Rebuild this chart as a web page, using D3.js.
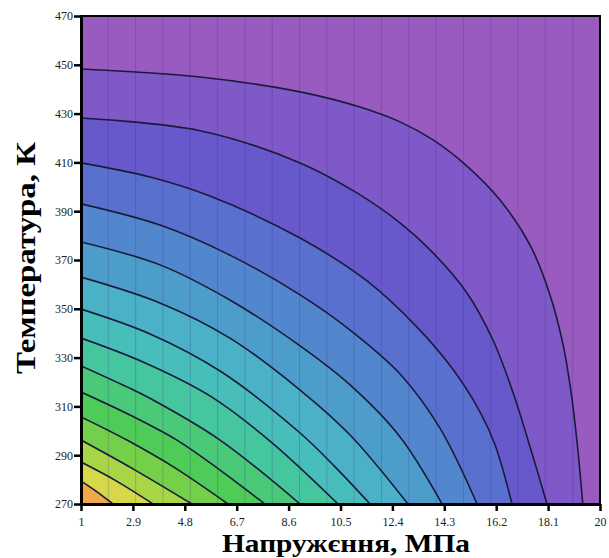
<!DOCTYPE html>
<html>
<head>
<meta charset="utf-8">
<script src="https://cdn.jsdelivr.net/npm/d3@7"></script>
<style>
  body { margin: 0; background: #fff; }
  svg { display: block; }
  .tick text { font-family: "Liberation Serif", "DejaVu Serif", serif; font-size: 12px; fill: #222; }
</style>
</head>
<body>
<div id="vis"></div>
<script>
const xTicks = [1, 2.9, 4.8, 6.7, 8.6, 10.5, 12.4, 14.3, 16.2, 18.1, 20];
const yTicks = [270, 290, 310, 330, 350, 370, 390, 410, 430, 450, 470];

// contour lines, [stress MPa, temperature K], outer -> inner
const contours = [
    [[1, 448.3], [5.36, 445.0], [9.02, 438.9], [11.21, 432.7], [12.68, 426.6], [13.89, 419.2], [15.13, 408.5],
     [16.34, 394.6], [17.44, 376.1], [18.17, 355.7], [18.65, 335.2], [18.97, 313.4], [19.19, 292.1], [19.37, 270]],
    [[1, 428.2], [5.36, 423.0], [9.02, 409.8], [11.10, 397.5], [12.68, 385.2], [13.89, 372.9], [15.13, 356.5],
     [16.08, 337.2], [16.81, 315.9], [17.44, 293.4], [18.06, 270]],
    [[1, 409.8], [3.53, 404.0], [5.72, 396.2], [9.02, 379.0], [11.47, 361.4], [13.30, 342.5], [14.58, 325.7],
     [15.61, 307.7], [16.16, 294.2], [16.78, 270]],
    [[1, 393.0], [3.89, 384.3], [6.45, 372.0], [9.02, 355.7], [10.85, 341.3], [12.68, 323.3], [14.14, 301.1], [15.50, 270]],
    [[1, 377.4], [3.89, 368.0], [6.45, 353.6], [9.02, 334.8], [10.85, 318.8], [12.68, 297.5], [14.22, 270]],
    [[1, 363.0], [3.89, 352.4], [6.45, 338.0], [9.02, 316.7], [10.85, 298.3], [12.97, 270]],
    [[1, 349.9], [3.53, 339.7], [6.09, 324.5], [9.02, 299.1], [10.30, 285.2], [11.58, 270]],
    [[1, 338.0], [3.27, 328.2], [5.72, 314.3], [7.92, 295.8], [10.41, 270]],
    [[1, 326.6], [2.68, 318.0], [3.64, 312.6], [6.09, 296.2], [9.02, 270]],
    [[1, 315.9], [2.79, 306.5], [4.51, 296.2], [6.09, 283.9], [7.73, 270]],
    [[1, 305.7], [2.68, 296.2], [4.44, 284.8], [6.38, 270]],
    [[1, 296.2], [2.98, 283.9], [5.06, 270]],
    [[1, 287.2], [2.24, 279.8], [3.64, 270]],
    [[1, 279.4], [1.55, 275.3], [2.17, 270]]
];

// band fills, band 0 = above the outer line
const bandColors = ["#9a5bc0", "#7e59c7", "#6759cc", "#5a70cf", "#5287ce", "#4d9dcb", "#4ab1c6", "#47beba",
                    "#46c69e", "#4ac978", "#4fcb57", "#74d049", "#a8d646", "#d6d848", "#f0a84a"];

const W = 609, H = 558;
const svg = d3.select("#vis").append("svg")
    .attr("width", W)
    .attr("height", H);

const x = d3.scaleLinear().domain([1, 20]).range([81, 600]);
const y = d3.scaleLinear().domain([270, 470]).range([504, 16]);

svg.append("clipPath").attr("id", "plot")
  .append("rect")
    .attr("x", x(1)).attr("y", y(470))
    .attr("width", x(20) - x(1)).attr("height", y(270) - y(470));

const g = svg.append("g").attr("clip-path", "url(#plot)");

g.append("rect")
    .attr("x", x(1)).attr("y", y(470))
    .attr("width", x(20) - x(1)).attr("height", y(270) - y(470))
    .attr("fill", bandColors[0]);

const line = d3.line()
    .x(d => x(d[0]))
    .y(d => y(d[1]))
    .curve(d3.curveCatmullRom.alpha(0.5));

// each line closed on the lower-left corner, inner ones drawn on top
g.selectAll("path.band")
  .data(contours)
  .join("path")
    .attr("class", "band")
    .attr("d", d => line(d) + "L" + x(1) + "," + y(270) + "Z")
    .attr("fill", (d, i) => bandColors[i + 1]);

// faint vertical grid
g.selectAll("line.grid")
  .data(d3.range(2, 20))
  .join("line")
    .attr("class", "grid")
    .attr("x1", d => x(d)).attr("x2", d => x(d))
    .attr("y1", y(470)).attr("y2", y(270))
    .attr("stroke", "#30208a")
    .attr("stroke-opacity", 0.22)
    .attr("stroke-width", 1);

g.selectAll("path.iso")
  .data(contours)
  .join("path")
    .attr("class", "iso")
    .attr("d", line)
    .attr("fill", "none")
    .attr("stroke", "#1a1a3a")
    .attr("stroke-width", 1.6);

// frame
svg.append("rect")
    .attr("x", x(1)).attr("y", y(470))
    .attr("width", x(20) - x(1)).attr("height", y(270) - y(470))
    .attr("fill", "none")
    .attr("stroke", "#000")
    .attr("stroke-width", 2);

const xAxis = svg.append("g")
    .attr("transform", `translate(0,${y(270)})`)
    .call(d3.axisBottom(x).tickValues(xTicks).tickSize(7).tickSizeOuter(0).tickPadding(6).tickFormat(d => d));

const yAxis = svg.append("g")
    .attr("transform", `translate(${x(1)},0)`)
    .call(d3.axisLeft(y).tickValues(yTicks).tickSize(7).tickSizeOuter(0).tickPadding(1));

[xAxis, yAxis].forEach(a => {
    a.select(".domain").attr("stroke", "#000").attr("stroke-width", 3);
    a.selectAll(".tick line").attr("stroke", "#000").attr("stroke-width", 2.5);
});

svg.append("text")
    .attr("x", 346).attr("y", 552)
    .attr("text-anchor", "middle")
    .attr("font-family", "Liberation Serif, serif")
    .attr("font-weight", "bold")
    .attr("font-size", 26)
    .attr("textLength", 248)
    .attr("lengthAdjust", "spacingAndGlyphs")
    .text("Напружєння, МПа");

svg.append("text")
    .attr("transform", "translate(35,258) rotate(-90)")
    .attr("text-anchor", "middle")
    .attr("font-family", "Liberation Serif, serif")
    .attr("font-weight", "bold")
    .attr("font-size", 28)
    .attr("textLength", 232)
    .attr("lengthAdjust", "spacingAndGlyphs")
    .text("Температура, К");
</script>
</body>
</html>
